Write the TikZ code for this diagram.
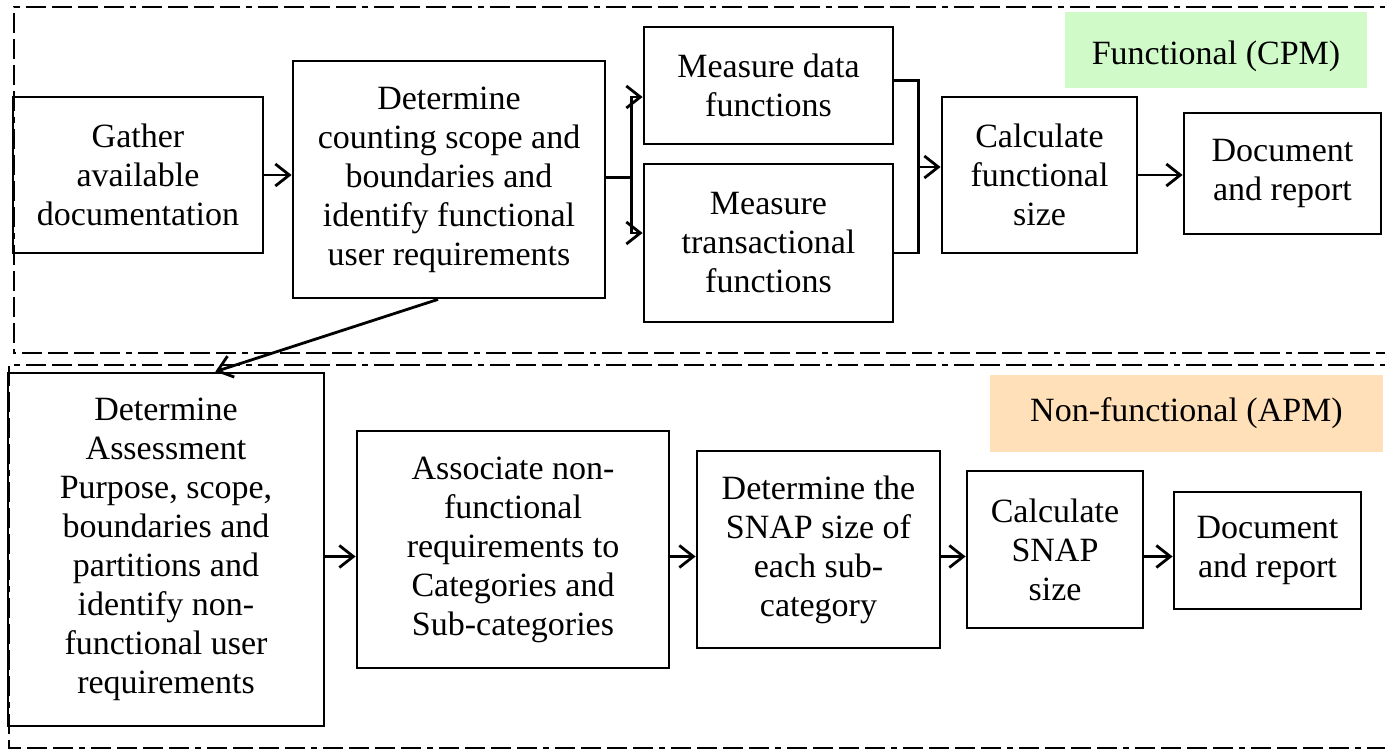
\documentclass[tikz,border=0pt]{standalone}
\usepackage{fontspec}
\setmainfont{Liberation Serif}
\usetikzlibrary{arrows.meta,calc}
\definecolor{fgreen}{RGB}{208,250,200}
\definecolor{forange}{RGB}{255,224,184}
\begin{document}
\begin{tikzpicture}[x=1pt,y=-1pt,
 box/.style={draw,line width=2.8pt,align=center,inner sep=0pt,font=\fontsize{34}{39}\selectfont},
 conn/.style={line width=2.8pt},
 arr/.style={line width=2.8pt,-{Straight Barb[length=14pt,width=22pt,line width=2.8pt]}},
 frame/.style={line width=2.6pt,dash pattern=on 20pt off 6pt on 20pt off 6pt on 20pt off 6pt on 20pt off 6pt on 6pt off 6pt},
 lbl/.style={inner sep=0pt,font=\fontsize{34}{39}\selectfont}]
\useasboundingbox (0,0) rectangle (1385,751);

% dashed frames
\draw[frame] (1400,7) -- (14,7) -- (14,353) -- (1400,353);
\draw[frame] (1400,365) -- (9,365) -- (9,748) -- (1400,748);

% labels
\node[lbl,fill=fgreen,minimum width=302pt,minimum height=76pt,text height=38pt,text depth=8pt] (fl) at (1216,50) {Functional (CPM)};
\node[lbl,fill=forange,minimum width=393pt,minimum height=77pt] (nfl) at (1186.5,413.5) {Non-functional (APM)};

% top row
\node[box,minimum width=250pt,minimum height=156pt] (gather) at (138,175) {Gather\\available\\documentation};
\node[box,minimum width=312pt,minimum height=237pt] (det) at (449,179.5) {Determine\\counting scope and\\boundaries and\\identify functional\\user requirements};
\node[box,minimum width=249pt,minimum height=117pt] (mdata) at (768.5,85.5) {Measure data\\functions};
\node[box,minimum width=249pt,minimum height=158pt] (mtrans) at (768.5,243) {Measure\\transactional\\functions};
\node[box,minimum width=195pt,minimum height=156pt] (calcf) at (1039.5,175) {Calculate\\functional\\size};
\node[box,minimum width=197pt,minimum height=121pt] (doct) at (1282.5,173.5) {Document\\and report};

% bottom row
\node[box,minimum width=316pt,minimum height=353pt] (detA) at (166,549.5) {Determine\\Assessment\\Purpose, scope,\\boundaries and\\partitions and\\identify non-\\functional user\\requirements};
\node[box,minimum width=312pt,minimum height=237pt] (assoc) at (513,549.5) {Associate non-\\functional\\requirements to\\Categories and\\Sub-categories};
\node[box,minimum width=243pt,minimum height=197pt] (snap) at (818.5,549.5) {Determine the\\SNAP size of\\each sub-\\category};
\node[box,minimum width=176pt,minimum height=157pt] (calcs) at (1055,549.5) {Calculate\\SNAP\\size};
\node[box,minimum width=187pt,minimum height=117pt] (docb) at (1267.5,550.5) {Document\\and report};

% top connectors
\draw[arr] (gather.east) -- (gather.east -| det.west);
\coordinate (fork) at ($(det.east)+(25,-2)$);
\draw[conn] ($(det.east)+(0,-2)$) -- (fork);
\draw[arr] (fork) |- ($(mdata.west)+(0,11.5)$);
\draw[arr] (fork) |- ($(mtrans.west)+(0,-10)$);
\coordinate (mx) at ($(mdata.east)+(24,-5)$);
\draw[conn] ($(mdata.east)+(0,-5)$) -- (mx) |- ($(mtrans.east)+(0,10)$);
\coordinate (cin) at ($(calcf.west)+(0,-8)$);
\draw[arr] (mx |- cin) -- (cin);
\draw[arr] (calcf.east) -- (calcf.east -| doct.west);

% diagonal
\draw[arr] ($(det.south west)!0.465!(det.south east)$) -- ($(detA.north west)!0.655!(detA.north east)$);

% bottom connectors
\draw[arr] ($(detA.east)+(0,7)$) -- ($(assoc.west)+(0,7)$);
\draw[arr] ($(assoc.east)+(0,7)$) -- ($(snap.west)+(0,7)$);
\draw[arr] ($(snap.east)+(0,7)$) -- ($(calcs.west)+(0,7)$);
\draw[arr] ($(calcs.east)+(0,7)$) -- ($(docb.west)+(0,6)$);
\end{tikzpicture}
\end{document}
